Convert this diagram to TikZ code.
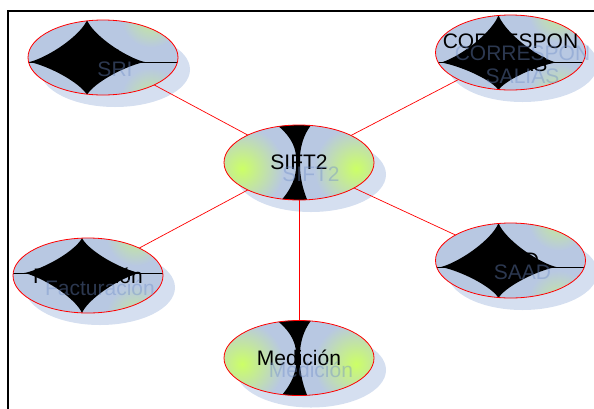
\documentclass[tikz,border=0pt]{standalone}
\usepackage{fontspec}
\setmainfont{Liberation Sans}
\usetikzlibrary{shapes.geometric,calc}

\definecolor{bubblefill}{RGB}{184,200,226}
\definecolor{bubbleshadow}{RGB}{213,223,240}
\definecolor{lobegreen}{RGB}{204,255,102}
\definecolor{ghostblue}{RGB}{110,140,200}

\pgfdeclarelayer{shadelayer}
\pgfdeclarelayer{linelayer}
\pgfdeclarelayer{filllayer}
\pgfsetlayers{shadelayer,linelayer,filllayer,main}

\tikzset{
  bubble/.style={ellipse, minimum width=150pt, minimum height=75pt, inner sep=0pt,
    font=\fontsize{21}{23}\selectfont, align=center, text=black},
  ghost/.style={font=\fontsize{21}{23}\selectfont, align=center,
    text=ghostblue, text opacity=0.4, inner sep=0pt},
  rim/.style={draw=red, line width=0.8pt},
  link/.style={red, line width=0.7pt},
}

% body of a central bubble: two green lobes and a black hourglass
\newcommand\hubbody[1]{%
  \begin{scope}
    \clip (#1.center) ellipse [x radius=75pt, y radius=37.5pt];
    \fill[bubblefill] (#1.center) ellipse [x radius=75pt, y radius=37.5pt];
    \begin{scope}[shift={(#1.center)}]
      \shade[inner color=lobegreen, outer color=bubblefill] (-57,6) circle (42pt);
      \shade[inner color=lobegreen, outer color=bubblefill] (57,6) circle (42pt);
      \fill[black] (-44,-50) -- (26,-50) .. controls (10,-40) and (2,-24) .. (1,-6)
        -- (1,6) .. controls (2,22) and (6,34) .. (14,50) -- (-30,50)
        .. controls (-14,36) and (-4,22) .. (-3,6)
        -- (-3,-6) .. controls (-4,-24) and (-20,-40) .. (-44,-50) -- cycle;
    \end{scope}
  \end{scope}
  \path[rim] (#1.center) ellipse [x radius=75pt, y radius=37.5pt];}

% body of an outer bubble: four-pointed black star and a spike line
% #2 = horizontal offset of the star, #3 = vertical offset of its waist and line
\newcommand\leafbody[3]{%
  \begin{scope}
    \clip (#1.center) ellipse [x radius=75pt, y radius=37.5pt];
    \fill[bubblefill] (#1.center) ellipse [x radius=75pt, y radius=37.5pt];
    \begin{scope}[shift={(#1.center)}]
      \shade[inner color=lobegreen!65!bubblefill, outer color=bubblefill] (48,-40) circle (30pt);
      \shade[inner color=lobegreen!55!bubblefill, outer color=bubblefill] (48,40) circle (30pt);
      \draw[black, line width=0.8pt] (-80,#3) -- (80,#3);
      \fill[black] plot[domain=0.5:360.5, samples=121]
        ({#2+58*sign(cos(\x))*abs(cos(\x))^2.7},
         {#3+((sin(\x)<0) ? (38+#3) : (38-#3))*sign(sin(\x))*abs(sin(\x))^2.5}) -- cycle;
    \end{scope}
  \end{scope}
  \path[rim] (#1.center) ellipse [x radius=75pt, y radius=37.5pt];}

\begin{document}
\begin{tikzpicture}[x=1pt, y=-1pt]
  \useasboundingbox (0,0) rectangle (594,408);

  % frame
  \draw[line width=2.2pt] (8,412) -- (8,11) -- (598,11);

  % bubbles
  \node[bubble] (sift) at (299,162.5) {SIFT2};
  \node[bubble] (medi) at (299,358) {Medición};
  \node[bubble] (sri)  at (103,57.5) {SRI};
  \node[bubble] (corr) at (510.5,52.5) {CORRESPON\\SALIAS};
  \node[bubble] (fact) at (88,275.5) {Facturación};
  \node[bubble] (saad) at (510.5,260.5) {SAAD};

  % faint offset copies of the labels
  \node[ghost] (sift-g) at ([shift={(12pt,-12pt)}]sift.center) {SIFT2};
  \node[ghost] (medi-g) at ([shift={(12pt,-12pt)}]medi.center) {Medición};
  \node[ghost] (sri-g)  at ([shift={(12pt,-12pt)}]sri.center) {SRI};
  \node[ghost] (corr-g) at ([shift={(12pt,-12pt)}]corr.center) {CORRESPON\\SALIAS};
  \node[ghost] (fact-g) at ([shift={(12pt,-12pt)}]fact.center) {Facturación};
  \node[ghost] (saad-g) at ([shift={(12pt,-12pt)}]saad.center) {SAAD};

  % bubble bodies and red rims
  \begin{pgfonlayer}{filllayer}
    \hubbody{sift}
    \hubbody{medi}
    \leafbody{sri}{-16}{4.5}
    \leafbody{corr}{-12}{10}
    \leafbody{fact}{-6}{-2.5}
    \leafbody{saad}{-12}{6.5}
  \end{pgfonlayer}

  % drop shadows
  \begin{pgfonlayer}{shadelayer}
    \foreach \n in {sift,medi,sri,corr,fact,saad}
      \fill[bubbleshadow] ([shift={(12pt,-12pt)}]\n.center) ellipse [x radius=75pt, y radius=37.5pt];
  \end{pgfonlayer}

  % connectors
  \begin{pgfonlayer}{linelayer}
    \foreach \n in {sri,corr,fact,saad,medi}
      \draw[link] (sift.center) -- (\n.center);
  \end{pgfonlayer}
\end{tikzpicture}
\end{document}
